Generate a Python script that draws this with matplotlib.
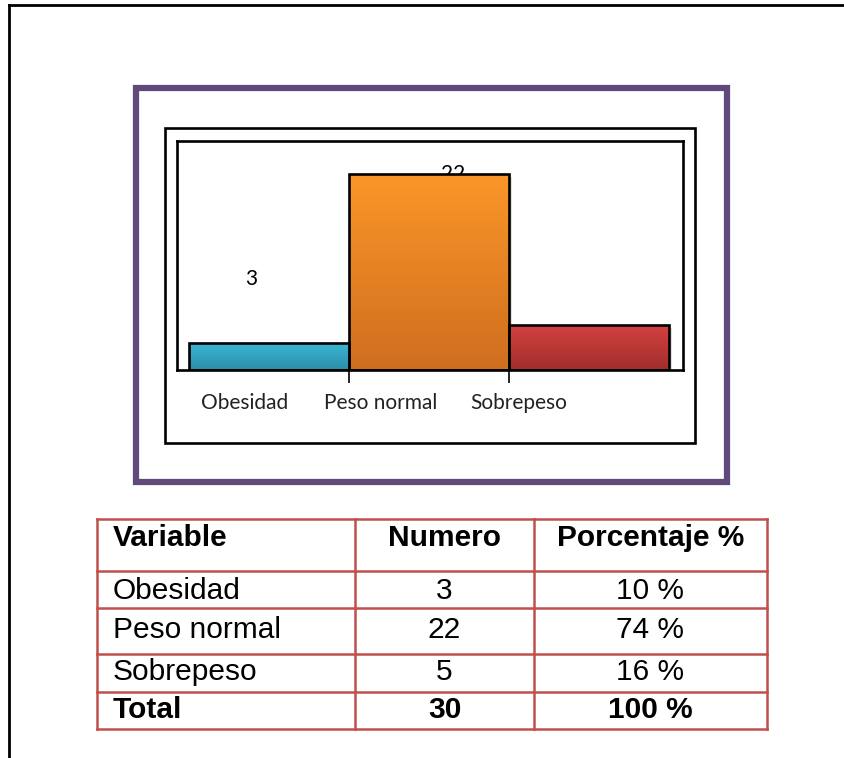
import numpy as np
import matplotlib
matplotlib.use('Agg')
import matplotlib.pyplot as plt
from matplotlib.patches import Rectangle
from matplotlib.colors import LinearSegmentedColormap

# datos de la grafica
categorias = ['Obesidad', 'Peso normal', 'Sobrepeso']
valores = [3, 22, 5]
porcentajes = ['10 %', '74 %', '16 %']
total_num = 30
total_pct = '100 %'
cabecera = ['Variable', 'Numero', 'Porcentaje %']

# colores degradados (arriba, abajo)
colores = [('#3bb6d6', '#2b8ea8'), ('#fb9629', '#cf6e1f'), ('#d2413f', '#a22e2d')]

W, H = 845, 758
fig = plt.figure(figsize=(W / 100, H / 100), dpi=100)


def fx(px):
    return px / W


def fy(py):
    return 1 - py / H


# borde de pagina
fig.add_artist(plt.Line2D([fx(9), fx(9)], [fy(5), 0], color='black', lw=2.0))
fig.add_artist(plt.Line2D([fx(9), 1], [fy(5), fy(5)], color='black', lw=2.0))

# marco morado y marco negro
fig.add_artist(Rectangle((fx(136), fy(482)), fx(727) - fx(136), fy(88) - fy(482),
                         transform=fig.transFigure, fill=False, ec='#604a7b', lw=4.5))
fig.add_artist(Rectangle((fx(165), fy(443)), fx(695) - fx(165), fy(128) - fy(443),
                         transform=fig.transFigure, fill=False, ec='black', lw=1.9))

# grafica de barras
ax = fig.add_axes([fx(177), fy(370), fx(683) - fx(177), fy(141) - fy(370)])
x = np.arange(len(categorias))
barras = ax.bar(x, valores, width=1.0, color='none', edgecolor='black', linewidth=1.9, zorder=3)

for b, (c1, c2) in zip(barras, colores):
    # sombra
    sh = Rectangle((b.get_x() + 0.02, -0.3), b.get_width(), b.get_height(),
                   fc='#000000', alpha=0.12, ec='none', zorder=1)
    ax.add_patch(sh)
    cmap = LinearSegmentedColormap.from_list('g', [c2, c1])
    grad = np.linspace(0, 1, 100).reshape(-1, 1)
    im = ax.imshow(grad, cmap=cmap, aspect='auto', origin='lower',
                   extent=[b.get_x(), b.get_x() + b.get_width(), 0, b.get_height()], zorder=2)
    clip = Rectangle((b.get_x(), 0), b.get_width(), b.get_height(), transform=ax.transData)
    im.set_clip_path(clip)

# etiquetas de datos (la de 22 queda detras de la barra)
ax.text(-0.11, 10.2, str(valores[0]), ha='center', va='center', fontsize=15,
        family='Lato', zorder=1)
ax.text(1.15, 22.0, str(valores[1]), ha='center', va='center', fontsize=15,
        family='Lato', zorder=1)

ax.set_xlim(-0.575, 2.59)
ax.set_ylim(0, 25.7)
ax.set_yticks([])
ax.set_xticks([0.5, 1.5])
ax.set_xticklabels([])
ax.tick_params(axis='x', length=9, width=1.2, direction='out')
for s in ax.spines.values():
    s.set_linewidth(1.9)

pos_etq = [-0.15, 0.70, 1.56]
for p, c in zip(pos_etq, categorias):
    ax.text(p, -0.144, c, transform=ax.get_xaxis_transform(), ha='center', va='center',
            fontsize=15, family='Lato', color='#222222')

# tabla
axt = fig.add_axes([fx(97), fy(729), fx(767) - fx(97), fy(519) - fy(729)])
axt.set_xlim(0, 670)
axt.set_ylim(210, 0)
axt.axis('off')
rojo = '#c0504d'
filas = [0, 52, 89, 135, 173, 210]
cols = [0, 258, 437, 670]
for yy in filas:
    axt.plot([0, 670], [yy, yy], color=rojo, lw=1.8, solid_capstyle='projecting', clip_on=False)
for xx in cols:
    axt.plot([xx, xx], [0, 210], color=rojo, lw=1.8, solid_capstyle='projecting', clip_on=False)

fuente = 'Liberation Sans'
fs = 21.5
ytxt = [19, 72, 111, 153, 191]
c_num = (cols[1] + cols[2]) / 2
c_pct = (cols[2] + cols[3]) / 2
axt.text(16, ytxt[0], cabecera[0], ha='left', va='center', fontsize=fs, weight='bold', family=fuente)
axt.text(c_num, ytxt[0], cabecera[1], ha='center', va='center', fontsize=fs, weight='bold', family=fuente)
axt.text(c_pct, ytxt[0], cabecera[2], ha='center', va='center', fontsize=fs, weight='bold', family=fuente)
for i in range(len(categorias)):
    axt.text(16, ytxt[i + 1], categorias[i], ha='left', va='center', fontsize=fs, family=fuente)
    axt.text(c_num, ytxt[i + 1], str(valores[i]), ha='center', va='center', fontsize=fs, family=fuente)
    axt.text(c_pct, ytxt[i + 1], porcentajes[i], ha='center', va='center', fontsize=fs, family=fuente)
axt.text(16, ytxt[4], 'Total', ha='left', va='center', fontsize=fs, weight='bold', family=fuente)
axt.text(c_num, ytxt[4], str(total_num), ha='center', va='center', fontsize=fs, weight='bold', family=fuente)
axt.text(c_pct, ytxt[4], total_pct, ha='center', va='center', fontsize=fs, weight='bold', family=fuente)

fig.savefig('out.png', dpi=100)
